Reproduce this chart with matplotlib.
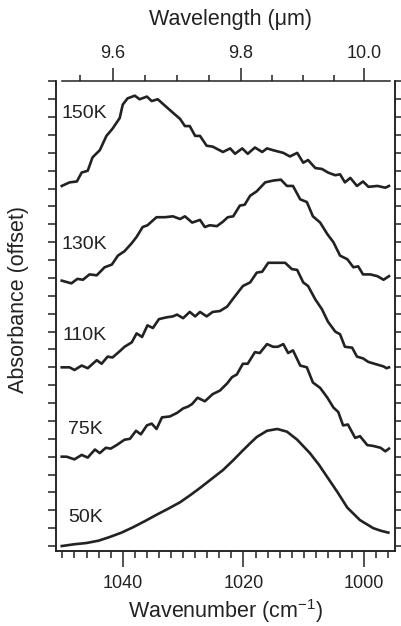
import numpy as np
import matplotlib.pyplot as plt

plt.rcParams['font.family'] = ['Liberation Sans', 'DejaVu Sans']
plt.rcParams['mathtext.default'] = 'regular'

# spectra: wavenumber (cm-1) and absorbance above each baseline
wn_50 = [1050.1, 1048.0, 1046.0, 1044.0, 1042.2, 1040.2, 1038.3, 1036.3, 1034.4, 1032.4,
         1030.5, 1028.8, 1027.2, 1025.3, 1023.4, 1021.7, 1020.1, 1018.9, 1017.8, 1016.1,
         1014.4, 1012.8, 1011.1, 1009.0, 1007.5, 1006.1, 1004.4, 1002.8, 1000.7, 998.5,
         997.2, 996.0]
ab_50 = [0.00, 0.02, 0.034, 0.06, 0.10, 0.15, 0.21, 0.28, 0.35, 0.42,
         0.49, 0.57, 0.65, 0.75, 0.85, 0.96, 1.07, 1.15, 1.22, 1.29,
         1.31, 1.28, 1.19, 1.04, 0.91, 0.77, 0.60, 0.43, 0.29, 0.20,
         0.17, 0.15]

wn_75 = [1050.1, 1049.3, 1048.0, 1046.8, 1045.8, 1044.6, 1043.8, 1042.8, 1042.0, 1041.0,
         1039.7, 1038.8, 1037.8, 1037.0, 1036.0, 1035.2, 1034.4, 1033.5, 1032.2, 1031.0,
         1030.0, 1029.2, 1028.5, 1027.6, 1026.4, 1025.1, 1023.9, 1022.7, 1021.9, 1021.1,
         1020.1, 1019.3, 1018.1, 1017.3, 1016.1, 1015.1, 1014.3, 1013.4, 1012.6, 1011.8,
         1010.6, 1009.5, 1008.5, 1007.3, 1006.1, 1005.1, 1004.3, 1003.5, 1002.7, 1001.5,
         1000.7, 999.5, 998.5, 997.3, 996.5, 995.9]
ab_75 = [0.00, 0.00, -0.03, 0.02, -0.01, 0.08, 0.04, 0.10, 0.09, 0.13,
         0.19, 0.20, 0.29, 0.25, 0.35, 0.37, 0.31, 0.44, 0.45, 0.49,
         0.54, 0.56, 0.59, 0.66, 0.62, 0.70, 0.74, 0.82, 0.89, 0.92,
         1.04, 1.04, 1.17, 1.16, 1.26, 1.23, 1.23, 1.26, 1.16, 1.19,
         1.02, 1.00, 0.83, 0.77, 0.66, 0.55, 0.50, 0.35, 0.36, 0.21,
         0.23, 0.13, 0.12, 0.10, 0.06, 0.09]

wn_110 = [1050.1, 1048.8, 1048.0, 1046.8, 1045.8, 1044.3, 1043.5, 1042.5, 1041.7, 1040.5,
          1039.7, 1038.5, 1037.7, 1036.8, 1035.9, 1035.0, 1034.0, 1032.7, 1031.7, 1031.0,
          1030.0, 1028.9, 1028.0, 1027.2, 1026.1, 1025.1, 1023.9, 1022.7, 1021.7, 1020.1,
          1018.9, 1017.8, 1016.9, 1015.9, 1014.4, 1013.1, 1012.0, 1011.1, 1010.1, 1009.3,
          1008.1, 1007.0, 1006.0, 1004.8, 1004.0, 1003.2, 1002.0, 1001.2, 1000.2, 999.3,
          997.8, 996.8, 996.3, 995.9]
ab_110 = [0.00, 0.00, -0.03, 0.02, -0.01, 0.08, 0.04, 0.12, 0.11, 0.18,
          0.23, 0.28, 0.38, 0.34, 0.47, 0.44, 0.54, 0.56, 0.57, 0.59,
          0.55, 0.62, 0.57, 0.62, 0.57, 0.62, 0.63, 0.68, 0.77, 0.91,
          0.95, 1.06, 1.07, 1.17, 1.17, 1.17, 1.10, 1.09, 0.95, 0.91,
          0.76, 0.65, 0.51, 0.40, 0.37, 0.23, 0.22, 0.12, 0.10, 0.06,
          0.03, 0.01, -0.01, 0.00]

wn_130 = [1050.1, 1048.5, 1047.5, 1046.6, 1045.5, 1044.3, 1043.0, 1041.8, 1040.8, 1039.7,
          1038.5, 1037.7, 1036.7, 1035.9, 1034.4, 1033.0, 1031.7, 1030.5, 1029.7, 1028.5,
          1027.2, 1026.4, 1025.6, 1024.4, 1023.4, 1022.6, 1021.7, 1020.6, 1019.8, 1018.9,
          1017.8, 1016.4, 1015.1, 1013.8, 1012.8, 1011.8, 1010.6, 1009.5, 1008.5, 1007.3,
          1006.1, 1005.1, 1004.0, 1002.8, 1001.8, 1001.0, 1000.2, 999.0, 997.8, 996.8,
          995.9]
ab_130 = [-0.03, -0.06, -0.01, -0.02, 0.04, 0.03, 0.12, 0.15, 0.25, 0.30,
          0.39, 0.46, 0.57, 0.59, 0.68, 0.68, 0.69, 0.66, 0.69, 0.62,
          0.65, 0.57, 0.59, 0.58, 0.63, 0.68, 0.69, 0.81, 0.82, 0.92,
          0.97, 1.07, 1.09, 1.10, 1.03, 1.03, 0.88, 0.85, 0.69, 0.62,
          0.49, 0.40, 0.25, 0.21, 0.12, 0.13, 0.04, 0.04, 0.02, -0.02,
          0.02]

wn_150 = [1050.1, 1048.8, 1047.6, 1046.8, 1045.8, 1045.0, 1043.8, 1042.7, 1041.7, 1040.5,
          1040.0, 1039.2, 1038.0, 1037.2, 1036.0, 1035.2, 1034.2, 1032.7, 1031.7, 1030.5,
          1029.7, 1028.9, 1028.0, 1027.2, 1026.1, 1025.1, 1023.4, 1022.2, 1021.4, 1020.2,
          1019.3, 1018.1, 1016.9, 1016.1, 1015.1, 1013.4, 1012.3, 1011.1, 1010.1, 1009.3,
          1008.1, 1007.0, 1006.0, 1004.8, 1004.0, 1003.2, 1002.3, 1001.2, 1000.2, 999.3,
          997.8, 996.5, 995.9]
ab_150 = [0.03, 0.07, 0.08, 0.18, 0.20, 0.35, 0.43, 0.59, 0.67, 0.79,
          0.94, 1.01, 1.04, 1.00, 1.03, 0.98, 1.00, 0.91, 0.85, 0.78,
          0.70, 0.70, 0.59, 0.59, 0.48, 0.47, 0.41, 0.45, 0.39, 0.45,
          0.39, 0.46, 0.41, 0.45, 0.43, 0.40, 0.36, 0.40, 0.29, 0.32,
          0.23, 0.22, 0.18, 0.15, 0.16, 0.07, 0.12, 0.03, 0.08, 0.02,
          0.03, 0.01, 0.03]

temps = ['50K', '75K', '110K', '130K', '150K']
offsets = [0, 1, 2, 3, 4]
label_x = [1049.0, 1049.0, 1049.9, 1050.1, 1050.1]
label_y = [0.32, 1.30, 2.36, 3.37, 4.84]

wl_major = [9.6, 9.8, 10.0]
wl_minor = [9.55, 9.65, 9.7, 9.75, 9.85, 9.9, 9.95]

spectra = [(wn_50, ab_50), (wn_75, ab_75), (wn_110, ab_110), (wn_130, ab_130), (wn_150, ab_150)]

fig = plt.figure(figsize=(4.02, 6.26), dpi=100)
ax = fig.add_axes([0.1386, 0.1206, 0.8440, 0.7508])

col = '#222222'
for (wn, ab), off in zip(spectra, offsets):
    ax.plot(wn, np.array(ab) + off, color=col, lw=1.9, solid_joinstyle='round')

for t, lx, ly in zip(temps, label_x, label_y):
    ax.text(lx, ly, t, fontsize=14, color=col, ha='left', va='center')

ax.set_xlim(1051.1, 994.9)
ax.set_ylim(-0.05, 5.21)

# bottom axis
ax.set_xticks([1040, 1020, 1000])
ax.set_xticks(np.arange(996, 1051, 2), minor=True)
ax.tick_params(axis='x', which='major', length=11.5, width=1.1, labelsize=13, pad=6, color=col, labelcolor=col)
ax.tick_params(axis='x', which='minor', length=5, width=1.1, color=col)
ax.set_xlabel('Wavenumber (cm$^{-1}$)', fontsize=15.5, color=col)
ax.xaxis.set_label_coords(0.5, -0.1)

# left axis, no numbers
ax.set_yticks(offsets + [5])
ax.set_yticks(np.arange(0, 5.25, 0.2), minor=True)
ax.tick_params(axis='y', which='major', length=11, width=1.1, labelleft=False, color=col)
ax.tick_params(axis='y', which='minor', length=5.5, width=1.1, color=col)
ax.set_ylabel('Absorbance (offset)', fontsize=15.5, color=col)
ax.yaxis.set_label_coords(-0.08, 0.533)

for s in ax.spines.values():
    s.set_linewidth(1.1)
    s.set_color(col)
ax.spines['top'].set_bounds(995.7, 1050.1)

# right axis, short ticks only
axr = ax.twinx()
axr.set_ylim(ax.get_ylim())
axr.set_yticks(np.arange(0, 5.25, 0.2))
axr.tick_params(axis='y', length=5, width=1.1, labelright=False, color=col)
axr.spines['top'].set_visible(False)
for s in axr.spines.values():
    s.set_linewidth(1.1)
    s.set_color(col)

# top axis in wavelength (um)
axt = ax.twiny()
axt.set_xlim(ax.get_xlim())
axt.set_xticks([1e4 / w for w in wl_major])
axt.set_xticklabels(['%.1f' % w for w in wl_major])
axt.set_xticks([1e4 / w for w in wl_minor], minor=True)
axt.tick_params(axis='x', which='major', length=9.5, width=1.1, labelsize=13, pad=4, color=col, labelcolor=col)
axt.tick_params(axis='x', which='minor', length=4.5, width=1.1, color=col)
axt.set_yticks([])
for name, s in axt.spines.items():
    s.set_visible(False)
fig.text(231 / 402, 1 - 20 / 626, 'Wavelength (\u03bcm)', fontsize=15.5, color=col, ha='center', va='center')

fig.savefig('out.png', dpi=100)
